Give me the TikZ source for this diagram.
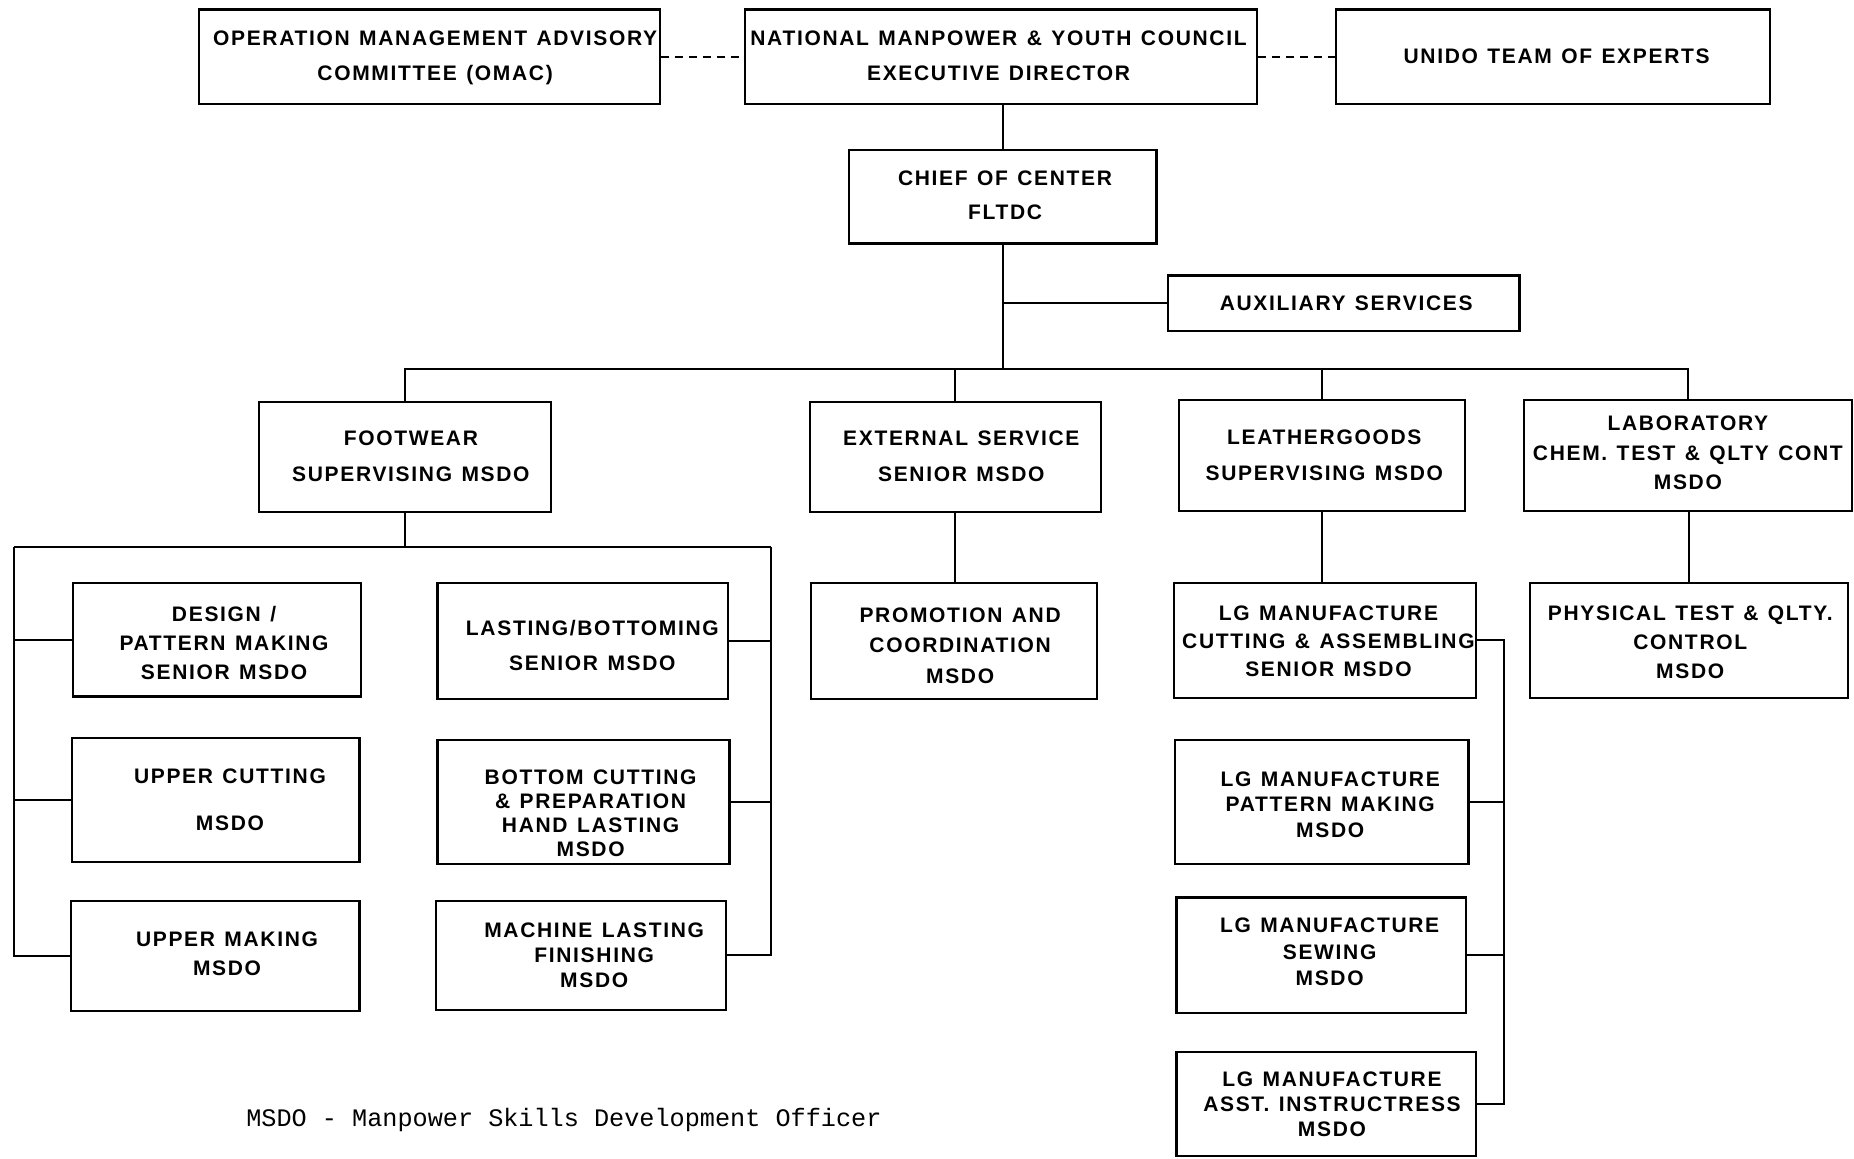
\documentclass[tikz,border=0pt]{standalone}
\usepackage{fontspec}
\usetikzlibrary{fit}
\newfontfamily\lbl{Liberation Sans}[LetterSpace=8, WordSpace=1.25]
\newfontfamily\tw{Liberation Mono}
\tikzset{
  box/.style={draw, line width=1.1pt, inner sep=0pt},
  txt/.style={inner sep=0pt, align=center,
    font=\lbl\bfseries\fontsize{10.5}{17.7}\selectfont},
  ls/.style={font=\lbl\bfseries\fontsize{10.5}{#1}\selectfont},
  conn/.style={line width=1pt},
  dconn/.style={line width=1pt, dashed, dash pattern=on 4pt off 3pt},
}
\begin{document}
\begin{tikzpicture}[x=0.5912pt, y=-0.5912pt]
\useasboundingbox (0,0) rectangle (1568,980);
\fill[white] (0,0) rectangle (1568,980);
% ---------- boxes ----------
\node[box, fit={(168,8) (558,88)}] (omac) {};
\node[box, fit={(630,8) (1063,88)}] (nmyc) {};
\node[box, fit={(1130,8) (1497,88)}] (unido) {};
\node[box, fit={(718,127) (978,206)}] (chief) {};
\node[box, fit={(988,233) (1285,280)}] (aux) {};
\node[box, fit={(219,340) (466,433)}] (foot) {};
\node[box, fit={(685,340) (931,433)}] (ext) {};
\node[box, fit={(997,338) (1239,432)}] (lgs) {};
\node[box, fit={(1289,338) (1566,432)}] (lab) {};
\node[box, fit={(62,493) (305,589)}] (design) {};
\node[box, fit={(61,624) (304,729)}] (ucut) {};
\node[box, fit={(60,762) (304,855)}] (umake) {};
\node[box, fit={(370,493) (616,591)}] (last) {};
\node[box, fit={(370,626) (617,731)}] (bcut) {};
\node[box, fit={(369,762) (614,854)}] (mach) {};
\node[box, fit={(686,493) (928,591)}] (promo) {};
\node[box, fit={(993,493) (1248,590)}] (lgcut) {};
\node[box, fit={(994,626) (1242,731)}] (lgpat) {};
\node[box, fit={(995,759) (1240,857)}] (lgsew) {};
\node[box, fit={(995,890) (1248,978)}] (lgasst) {};
\node[box, fit={(1294,493) (1563,590)}] (phys) {};
% ---------- box texts ----------
\node[txt, ls=17.7, shift={(5,1)}] (omac-t) at (omac.center) {OPERATION MANAGEMENT ADVISORY\\COMMITTEE (OMAC)};
\node[txt, ls=17.7, shift={(-2,-1)}] (nmyc-t) at (nmyc.center) {NATIONAL MANPOWER \& YOUTH COUNCIL\\EXECUTIVE DIRECTOR};
\node[txt, shift={(3,0)}] (unido-t) at (unido.center) {UNIDO TEAM OF EXPERTS};
\node[txt, ls=17, shift={(2,-1)}] (chief-t) at (chief.center) {CHIEF OF CENTER\\FLTDC};
\node[txt, shift={(2,0)}] (aux-t) at (aux.center) {AUXILIARY SERVICES};
\node[txt, ls=18, shift={(5,-1)}] (foot-t) at (foot.center) {FOOTWEAR\\SUPERVISING MSDO};
\node[txt, ls=18, shift={(5,-1)}] (ext-t) at (ext.center) {EXTERNAL SERVICE\\SENIOR MSDO};
\node[txt, ls=17.7, shift={(2,0)}] (lgs-t) at (lgs.center) {LEATHERGOODS\\SUPERVISING MSDO};
\node[txt, ls=14.8, shift={(0,-2)}] (lab-t) at (lab.center) {LABORATORY\\CHEM. TEST \& QLTY CONT\\MSDO};
\node[txt, ls=14.5, shift={(6,3)}] (design-t) at (design.center) {DESIGN /\\PATTERN MAKING\\SENIOR MSDO};
\node[txt, ls=23.6, shift={(12,0)}] (ucut-t) at (ucut.center) {UPPER CUTTING\\MSDO};
\node[txt, ls=14.2, shift={(10,-2)}] (umake-t) at (umake.center) {UPPER MAKING\\MSDO};
\node[txt, ls=17.7, shift={(8,4)}] (last-t) at (last.center) {LASTING/BOTTOMING\\SENIOR MSDO};
\node[txt, ls=12, shift={(6,9)}] (bcut-t) at (bcut.center) {BOTTOM CUTTING\\\& PREPARATION\\HAND LASTING\\MSDO};
\node[txt, ls=12.4, shift={(11,0)}] (mach-t) at (mach.center) {MACHINE LASTING\\FINISHING\\MSDO};
\node[txt, ls=15.3, shift={(5,4)}] (promo-t) at (promo.center) {PROMOTION AND\\COORDINATION\\MSDO};
\node[txt, ls=14, shift={(3,1)}] (lgcut-t) at (lgcut.center) {LG MANUFACTURE\\CUTTING \& ASSEMBLING\\SENIOR MSDO};
\node[txt, ls=12.7, shift={(7,2)}] (lgpat-t) at (lgpat.center) {LG MANUFACTURE\\PATTERN MAKING\\MSDO};
\node[txt, ls=13.3, shift={(7,-3)}] (lgsew-t) at (lgsew.center) {LG MANUFACTURE\\SEWING\\MSDO};
\node[txt, ls=12.4, shift={(5,0)}] (lgasst-t) at (lgasst.center) {LG MANUFACTURE\\ASST. INSTRUCTRESS\\MSDO};
\node[txt, ls=14.5, shift={(1,2)}] (phys-t) at (phys.center) {PHYSICAL TEST \& QLTY.\\CONTROL\\MSDO};
% ---------- footnote ----------
\node[anchor=west, inner sep=0pt, font=\tw\fontsize{12.6}{14}\selectfont] (note) at (208,947) {MSDO - Manpower Skills Development Officer};
% ---------- coordinates ----------
\coordinate (bus) at (848,312);
\coordinate (fl) at (12,463);
\coordinate (fr) at (652,463);
\coordinate (lgx) at (1272,538);
% ---------- connectors ----------
\draw[dconn] (omac.east) -- (nmyc.west);
\draw[dconn] (nmyc.east) -- (unido.west);
\draw[conn] (chief.north) -- (chief.north |- nmyc.south);
\draw[conn] (chief.south) -- (bus);
\draw[conn] (aux.west) -- (aux.west -| chief.south);
\draw[conn] (foot.north) |- (bus) -| (lab.north);
\draw[conn] (ext.north) -- (ext.north |- bus);
\draw[conn] (lgs.north) -- (lgs.north |- bus);
\draw[conn] (foot.south) -- (foot.south |- fl);
\draw[conn] (fl) -- (fr);
\draw[conn] (fl) |- (umake.west);
\draw[conn] (design.west) -- (design.west -| fl);
\draw[conn] (ucut.west) -- (ucut.west -| fl);
\draw[conn] (fr) |- (mach.east);
\draw[conn] (last.east) -- (last.east -| fr);
\draw[conn] (bcut.east) -- (bcut.east -| fr);
\draw[conn] (ext.south) -- (ext.south |- promo.north);
\draw[conn] (lgs.south) -- (lgs.south |- lgcut.north);
\draw[conn] (lgcut.east) -- (lgcut.east -| lgx) -- (lgasst.east -| lgx) -- (lgasst.east);
\draw[conn] (lgpat.east) -- (lgpat.east -| lgx);
\draw[conn] (lgsew.east) -- (lgsew.east -| lgx);
\draw[conn] (phys.north) -- (phys.north |- lab.south);
\end{tikzpicture}
\end{document}
